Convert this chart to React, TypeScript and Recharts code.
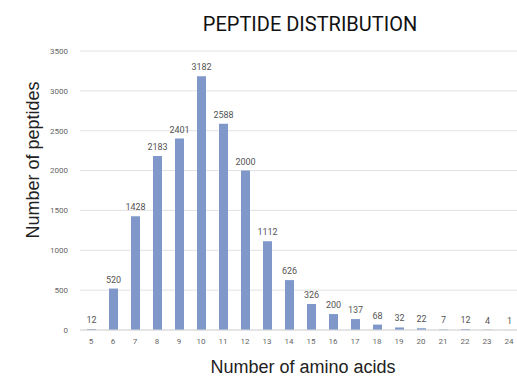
import { Bar, BarChart, CartesianGrid, LabelList, XAxis, YAxis } from 'recharts';

const lengths = ['5', '6', '7', '8', '9', '10', '11', '12', '13', '14', '15', '16', '17', '18', '19', '20', '21', '22', '23', '24'];
const counts = [12, 520, 1428, 2183, 2401, 3182, 2588, 2000, 1112, 626, 326, 200, 137, 68, 32, 22, 7, 12, 4, 1];
const yTicks = [0, 500, 1000, 1500, 2000, 2500, 3000, 3500];

const data = lengths.map((len, i) => ({ len, count: counts[i] }));

const tickStyle = { fill: '#666', fontSize: 8, fontFamily: 'Roboto, sans-serif' };

export default function App() {
  return (
    <div style={{ position: 'absolute', left: 0, top: 0, width: 517, height: 390, overflow: 'hidden', background: '#fff' }}>
      <div
        style={{
          position: 'absolute',
          left: 0,
          width: 620,
          top: 12,
          textAlign: 'center',
          fontFamily: 'Roboto, sans-serif',
          fontSize: 20,
          color: '#111',
        }}
      >
        PEPTIDE DISTRIBUTION
      </div>
      <div
        style={{
          position: 'absolute',
          left: 33,
          top: 160,
          transform: 'translate(-50%, -50%) rotate(-90deg)',
          whiteSpace: 'nowrap',
          fontFamily: '"Liberation Sans", Arial, sans-serif',
          fontSize: 18,
          color: '#222',
        }}
      >
        Number of peptides
      </div>
      <div
        style={{
          position: 'absolute',
          left: 0,
          width: 606,
          top: 357,
          textAlign: 'center',
          fontFamily: '"Liberation Sans", Arial, sans-serif',
          fontSize: 18,
          color: '#222',
        }}
      >
        Number of amino acids
      </div>
      <BarChart
        width={530}
        height={390}
        data={data}
        margin={{ top: 51, right: 10, left: 0, bottom: 30 }}
        style={{ position: 'absolute', left: 0, top: 0 }}
      >
        <CartesianGrid vertical={false} stroke="#e2e2e2" />
        <XAxis
          dataKey="len"
          tick={tickStyle}
          axisLine={{ stroke: '#d8d8d8' }}
          tickLine={false}
          interval={0}
          height={30}
        />
        <YAxis
          domain={[0, 3500]}
          ticks={yTicks}
          tick={tickStyle}
          axisLine={false}
          tickLine={false}
          width={80}
          tickMargin={6}
        />
        <Bar dataKey="count" fill="#7f98c9" barSize={9} isAnimationActive={false}>
          <LabelList dataKey="count" position="top" offset={6} style={{ fill: '#555', fontSize: 9, fontFamily: 'Roboto, sans-serif' }} />
        </Bar>
      </BarChart>
    </div>
  );
}
